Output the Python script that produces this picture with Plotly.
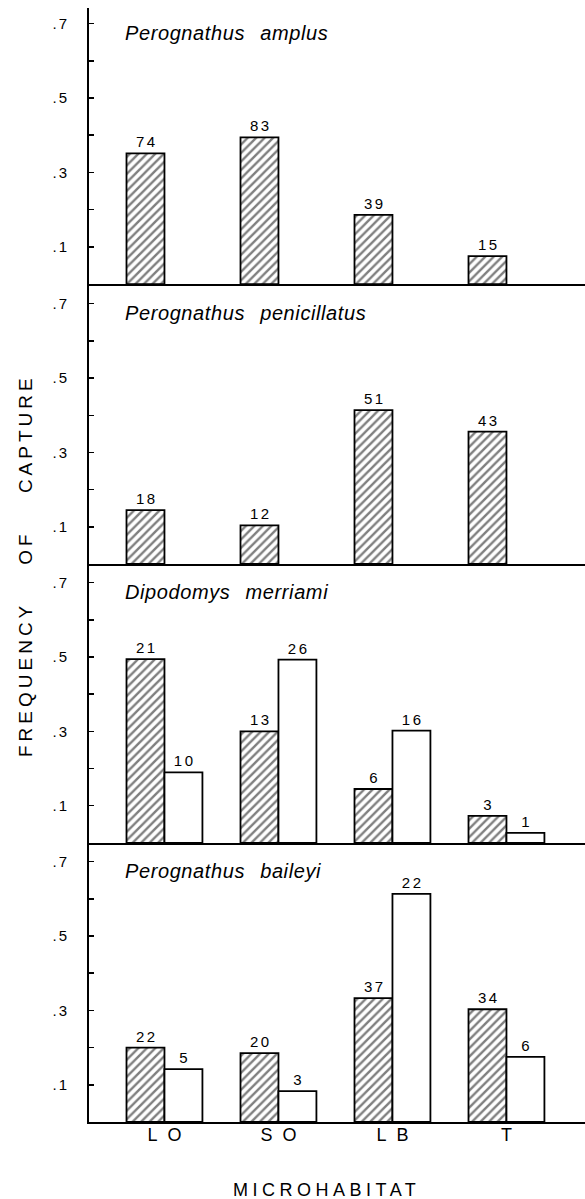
import plotly.graph_objects as go

# ---------------- data ----------------
categories = ["LO", "SO", "LB", "T"]
species = ["Perognathus amplus", "Perognathus penicillatus",
           "Dipodomys merriami", "Perognathus baileyi"]

amplus_hatched = [0.351, 0.394, 0.186, 0.075]
amplus_hatched_n = [74, 83, 39, 15]

penicillatus_hatched = [0.145, 0.104, 0.414, 0.356]
penicillatus_hatched_n = [18, 12, 51, 43]

merriami_hatched = [0.494, 0.300, 0.145, 0.073]
merriami_hatched_n = [21, 13, 6, 3]
merriami_open = [0.190, 0.493, 0.302, 0.027]
merriami_open_n = [10, 26, 16, 1]

baileyi_hatched = [0.200, 0.185, 0.333, 0.303]
baileyi_hatched_n = [22, 20, 37, 34]
baileyi_open = [0.142, 0.083, 0.613, 0.175]
baileyi_open_n = [5, 3, 22, 6]

ytick_vals = [0.1, 0.3, 0.5, 0.7]
ytick_text = [".1", ".3", ".5", ".7"]
yminor_vals = [0.2, 0.4, 0.6]

panels = [
    (species[0], amplus_hatched, amplus_hatched_n, None, None),
    (species[1], penicillatus_hatched, penicillatus_hatched_n, None, None),
    (species[2], merriami_hatched, merriami_hatched_n, merriami_open, merriami_open_n),
    (species[3], baileyi_hatched, baileyi_hatched_n, baileyi_open, baileyi_open_n),
]

# ---------------- layout constants ----------------
W, H = 585, 1199
ML, MR, MT, MB = 89, 0, 8, 77
domains = [[0.7522, 1.0], [0.5009, 0.7522], [0.2505, 0.5009], [0.0, 0.2505]]
yranges = [0.742, 0.753, 0.750, 0.750]
XR = [-0.662, 3.689]
BW = 0.333
FONT = "Liberation Sans, Arial, sans-serif"


def spaced_first(s, px):
    s = str(s)
    if len(s) < 2:
        return s
    return f'<span style="letter-spacing:{px}px">{s[:-1]}</span>{s[-1]}'


fig = go.Figure()
xpos = list(range(len(categories)))

for i, (name, hv, hn, ov, on) in enumerate(panels):
    ax = "" if i == 0 else str(i + 1)
    fig.add_trace(go.Bar(
        x=xpos, y=hv, width=BW, offset=-BW,
        marker=dict(color="white", line=dict(color="black", width=1.8),
                    pattern=dict(shape="/", fgcolor="black", bgcolor="white",
                                 size=6, solidity=0.4)),
        text=[spaced_first(n, 2.5) for n in hn], textposition="outside",
        textangle=0, textfont=dict(family=FONT, size=15, color="black"),
        cliponaxis=False, hoverinfo="skip", showlegend=False,
        xaxis="x" + ax, yaxis="y" + ax))
    if ov is not None:
        fig.add_trace(go.Bar(
            x=xpos, y=ov, width=BW, offset=0,
            marker=dict(color="white", line=dict(color="black", width=1.8)),
            text=[spaced_first(n, 2.5) for n in on], textposition="outside",
            textangle=0, textfont=dict(family=FONT, size=15, color="black"),
            cliponaxis=False, hoverinfo="skip", showlegend=False,
            xaxis="x" + ax, yaxis="y" + ax))

    fig.update_layout(**{
        "xaxis" + ax: dict(
            domain=[0, 1], range=XR, anchor="y" + ax, automargin=False,
            showline=True, linewidth=2, linecolor="black",
            showgrid=False, zeroline=False, ticks="",
            tickmode="array", tickvals=xpos,
            ticktext=[spaced_first(c, 10) for c in categories],
            showticklabels=(i == 3), ticklabelstandoff=-5,
            tickfont=dict(family=FONT, size=18, color="black"),
            fixedrange=True),
        "yaxis" + ax: dict(
            domain=domains[i], range=[0, yranges[i]], anchor="x" + ax,
            automargin=False,
            showline=True, linewidth=2, linecolor="black",
            showgrid=False, zeroline=False,
            tickmode="array", tickvals=ytick_vals,
            ticktext=[spaced_first(t, 2) for t in ytick_text],
            ticks="inside", ticklen=5, tickwidth=1.5, tickcolor="black",
            ticklabelstandoff=17,
            tickfont=dict(family=FONT, size=15, color="black"),
            minor=dict(tickmode="array", tickvals=yminor_vals, ticks="inside",
                       ticklen=5, tickwidth=1.5, tickcolor="black"),
            fixedrange=True),
    })

    g, sp = name.split(" ")
    fig.add_annotation(
        text=f'<span style="word-spacing:9px;letter-spacing:0.6px">{g} {sp}</span>',
        xref="x" + ax, yref="y" + ax, x=-0.365, y=0.675,
        xanchor="left", yanchor="middle", showarrow=False,
        font=dict(family=FONT, size=20, color="black", style="italic"))

fig.add_annotation(
    text='<span style="letter-spacing:4px;word-spacing:28px">FREQUENCY OF CAPTURE</span>',
    xref="paper", yref="paper", x=(25 - ML) / (W - ML - MR), y=(1122 - 566) / (H - MT - MB),
    xanchor="center", yanchor="middle", textangle=-90, showarrow=False,
    font=dict(family=FONT, size=19, color="black"))

fig.add_annotation(
    text='<span style="letter-spacing:4.5px">MICROHABITAT</span>',
    xref="paper", yref="paper", x=(326 - ML) / (W - ML - MR), y=(1122 - 1190) / (H - MT - MB),
    xanchor="center", yanchor="middle", showarrow=False,
    font=dict(family=FONT, size=18, color="black"))

fig.update_layout(
    width=W, height=H, margin=dict(l=ML, r=MR, t=MT, b=MB, autoexpand=False),
    paper_bgcolor="white", plot_bgcolor="white",
    barmode="overlay", bargap=0, showlegend=False,
    font=dict(family=FONT, color="black"))

fig.write_html(
    "out.html",
    config={"displayModeBar": False, "staticPlot": True},
    post_script="document.body.style.margin='0';document.body.style.overflow='hidden';")
